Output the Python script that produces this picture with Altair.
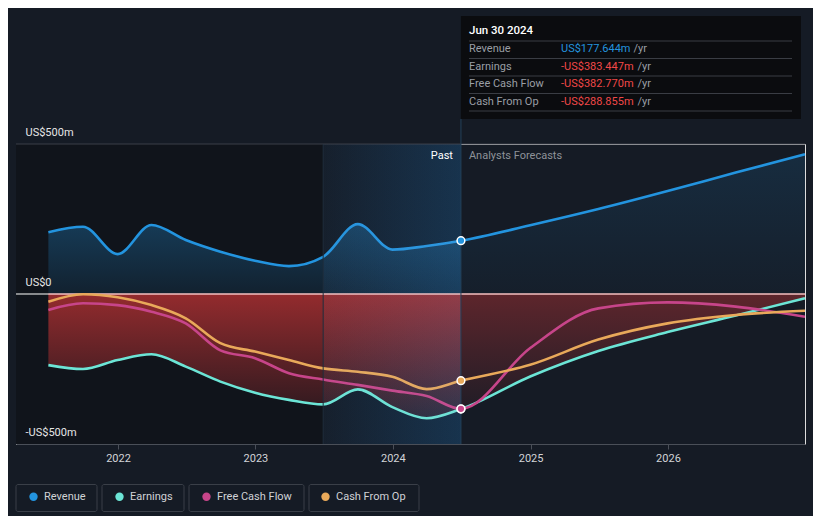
import altair as alt
import pandas as pd

# ---------------- data ----------------
SERIES = ["Revenue", "Earnings", "Free Cash Flow", "Cash From Op"]
COLORS = ["#2394df", "#6ce5d6", "#c7458a", "#e9a95a"]

PAST_DATES = ["2021-06-30", "2021-09-30", "2021-12-31", "2022-03-31", "2022-06-30",
              "2022-09-30", "2022-12-31", "2023-03-31", "2023-06-30", "2023-09-30",
              "2023-12-31", "2024-03-31", "2024-06-30"]
FORECAST_DATES = ["2024-12-31", "2025-06-30", "2025-12-31", "2026-06-30", "2026-12-31"]

REVENUE_PAST = [206, 224, 133, 230, 180, 141, 111, 93, 124, 233, 148, 160, 177.644]
EARNINGS_PAST = [-237, -250, -220, -201, -242, -292, -329, -353, -368, -318, -377, -414, -383.447]
FCF_PAST = [-53, -31, -37, -59, -98, -188, -214, -264, -285, -303, -322, -340, -382.770]
CFO_PAST = [-26, -1, -11, -37, -81, -164, -192, -220, -248, -259, -276, -317, -288.855]

REVENUE_FORECAST = [229, 283, 343, 405, 466]
EARNINGS_FORECAST = [-275, -190, -127, -72, -14]
FCF_FORECAST = [-180, -48, -28, -42, -76]
CFO_FORECAST = [-236, -152, -98, -70, -56]

DOMAIN = ["2021-04-05", "2026-12-31"]
PAST_REGION_START = "2023-06-30"
LATEST = "2024-06-30"
LATEST_LABEL = "Jun 30 2024"
Y_TICKS = [-500, 0, 500]

PASTS = [REVENUE_PAST, EARNINGS_PAST, FCF_PAST, CFO_PAST]
FORECASTS = [REVENUE_FORECAST, EARNINGS_FORECAST, FCF_FORECAST, CFO_FORECAST]

rows = []
for name, past, fc in zip(SERIES, PASTS, FORECASTS):
    for d, v in zip(PAST_DATES, past):
        rows.append({"date": d, "value": v, "series": name, "phase": "past"})
    for d, v in zip(FORECAST_DATES, fc):
        rows.append({"date": d, "value": v, "series": name, "phase": "forecast"})
df = pd.DataFrame(rows)

def part(name, phase):
    s = df[df.series == name]
    if phase == "past":
        return s[s.phase == "past"]
    return s[(s.phase == "forecast") | (s.date == LATEST)]

latest_df = df[df.date == LATEST]
marker_df = pd.DataFrame({"date": [LATEST]})
region_df = pd.DataFrame({"date": [DOMAIN[0]], "end": [PAST_REGION_START]})
past_region_df = pd.DataFrame({"date": [PAST_REGION_START], "end": [LATEST]})
data_span_df = pd.DataFrame({"date": [PAST_DATES[0]], "end": [FORECAST_DATES[-1]], "value": [0]})
grid_df = pd.DataFrame({"value": [Y_TICKS[-1]]})
zero_df = pd.DataFrame({"value": [0]})

# ---------------- style ----------------
W, H = 789, 300
BG = "#151b25"
FONT = "Roboto"

XSCALE = alt.Scale(domain=DOMAIN)
YSCALE = alt.Scale(domain=[-500, 500], nice=False, zero=False)

XAXIS = alt.Axis(title=None, format="%Y", tickCount="year", grid=False,
                 labelColor="#d2d4d8", labelFontSize=11, labelFont=FONT,
                 domainColor="#4a4f58", tickColor="#4a4f58", tickSize=5,
                 labelPadding=3, zindex=1)
YAXIS = alt.Axis(title=None, values=Y_TICKS, grid=False, domain=False, ticks=False,
                 tickSize=0, labelAlign="left", labelBaseline="bottom",
                 labelPadding=-9, labelOffset=-7, labelColor="#e6e6e6",
                 labelFontSize=11, labelFont=FONT, labelOverlap=False,
                 labelFlush=False, labelBound=False, zindex=1,
                 labelExpr="datum.value == 0 ? 'US$0' : (datum.value < 0 ? '-US$' + abs(datum.value) + 'm' : 'US$' + datum.value + 'm')")

LEGEND = alt.Legend(orient="none", legendX=12, legendY=347,
                    direction="horizontal", title=None,
                    symbolType="circle", symbolSize=70,
                    symbolStrokeWidth=0, labelFontSize=11,
                    labelFont=FONT, labelColor="#d0d2d6",
                    columnPadding=28, labelOffset=5, padding=0)
COLOR = alt.Color("series:N", scale=alt.Scale(domain=SERIES, range=COLORS), legend=LEGEND)

X = alt.X("date:T", scale=XSCALE, axis=XAXIS)
Y = alt.Y("value:Q", scale=YSCALE, axis=YAXIS)

def vgrad(c0, c1):
    return alt.Gradient(gradient="linear", x1=0, x2=0, y1=0, y2=1,
                        stops=[alt.GradientStop(color=c0, offset=0),
                               alt.GradientStop(color=c1, offset=1)])

def hgrad(c0, c1):
    return alt.Gradient(gradient="linear", x1=0, x2=1, y1=0, y2=0,
                        stops=[alt.GradientStop(color=c0, offset=0),
                               alt.GradientStop(color=c1, offset=1)])

layers = []

# background regions
layers.append(alt.Chart(region_df).mark_rect(color="#10141b").encode(
    x=X, x2="end:T", y=alt.value(0), y2=alt.value(H)))
layers.append(alt.Chart(past_region_df).mark_rect(
    color=hgrad("#121b27", "#0b2740")).encode(
    x=X, x2="end:T", y=alt.value(0), y2=alt.value(H)))

# gridline at 500
layers.append(alt.Chart(grid_df).mark_rule(color="#3a3f48", strokeWidth=1).encode(y=Y))

# areas
layers.append(alt.Chart(part("Revenue", "past")).mark_area(
    interpolate="monotone",
    color=vgrad("rgba(35,148,223,0.30)", "rgba(35,148,223,0.10)")).encode(
    x=X, y=Y, y2=alt.datum(0)))
layers.append(alt.Chart(part("Revenue", "forecast")).mark_area(
    interpolate="monotone",
    color=vgrad("rgba(35,148,223,0.14)", "rgba(35,148,223,0.03)")).encode(
    x=X, y=Y, y2=alt.datum(0)))
layers.append(alt.Chart(part("Earnings", "past")).mark_area(
    interpolate="monotone",
    color=vgrad("rgba(222,56,56,0.64)", "rgba(222,56,56,0.12)")).encode(
    x=X, y=Y, y2=alt.datum(0)))
layers.append(alt.Chart(part("Earnings", "forecast")).mark_area(
    interpolate="monotone",
    color=vgrad("rgba(222,56,56,0.36)", "rgba(222,56,56,0.06)")).encode(
    x=X, y=Y, y2=alt.datum(0)))

# zero lines
layers.append(alt.Chart(zero_df).mark_rule(color="#ffffff", strokeWidth=1.2).encode(y=Y))
layers.append(alt.Chart(data_span_df).mark_rule(color="#f0a0a0", strokeWidth=1.2).encode(
    x=X, x2="end:T", y=Y))

# lines
layers.append(alt.Chart(df).mark_line(interpolate="monotone", strokeWidth=2.6).encode(
    x=X, y=Y, color=COLOR))

# past overlay tint
layers.append(alt.Chart(past_region_df).mark_rect(
    color=hgrad("rgba(150,175,215,0.03)", "rgba(150,175,215,0.09)")).encode(
    x=X, x2="end:T", y=alt.value(0), y2=alt.value(H)))

# vertical separators
layers.append(alt.Chart(past_region_df).mark_rule(color="#1f2d3c", strokeWidth=1).encode(
    x=X, y=alt.value(0), y2=alt.value(H)))
layers.append(alt.Chart(marker_df).mark_rule(color="#23405a", strokeWidth=1).encode(
    x=X, y=alt.value(-25), y2=alt.value(H)))

# markers
layers.append(alt.Chart(latest_df).mark_point(
    filled=True, shape="circle", size=60, stroke="#ffffff", strokeWidth=1.5,
    opacity=1).encode(x=X, y=Y, color=COLOR))

# legend boxes
box_x = [(0, 81), (86, 168), (173, 288), (293, 403)]
for x0, x1 in box_x:
    layers.append(alt.Chart(alt.Data(values=[{}])).mark_rect(
        fill="transparent", stroke="#3a3f48", strokeWidth=1, cornerRadius=2).encode(
        x=alt.value(x0), x2=alt.value(x1), y=alt.value(340.5), y2=alt.value(367.5)))

# Past / Analysts Forecasts
layers.append(alt.Chart(marker_df).mark_text(
    text="Past", align="right", dx=-8, color="#ffffff", fontSize=11, font=FONT).encode(
    x=X, y=alt.value(12)))
layers.append(alt.Chart(marker_df).mark_text(
    text="Analysts Forecasts", align="left", dx=8, color="#8e9299", fontSize=11, font=FONT).encode(
    x=X, y=alt.value(12)))

# tooltip box
layers.append(alt.Chart(marker_df).mark_rect(color="#0b0c0f").encode(
    x=X, x2=alt.value(785), y=alt.value(-128), y2=alt.value(-25)))
for i in range(5):
    layers.append(alt.Chart(alt.Data(values=[{}])).mark_rule(
        color="#3a3d44", strokeWidth=1).encode(
        x=alt.value(453), x2=alt.value(776), y=alt.value(-103 + i * 17.5)))
layers.append(alt.Chart(alt.Data(values=[{}])).mark_text(
    text=LATEST_LABEL, align="left", baseline="middle", color="#ffffff",
    fontSize=11.5, fontWeight=500, font=FONT).encode(
    x=alt.value(453), y=alt.value(-113)))

for i, (name, past) in enumerate(zip(SERIES, PASTS)):
    v = past[-1]
    txt = ("-" if v < 0 else "") + "US$" + f"{abs(v):.3f}" + "m"
    vcol = "#2394df" if v >= 0 else "#f04848"
    yy = -94.7 + i * 17.4
    layers.append(alt.Chart(alt.Data(values=[{}])).mark_text(
        text=name, align="left", baseline="middle", color="#9a9ea5",
        fontSize=11, font=FONT).encode(x=alt.value(453), y=alt.value(yy)))
    layers.append(alt.Chart(alt.Data(values=[{}])).mark_text(
        text=txt, align="left", baseline="middle", color=vcol,
        fontSize=11, font=FONT).encode(x=alt.value(545), y=alt.value(yy)))
    layers.append(alt.Chart(alt.Data(values=[{}])).mark_text(
        text="/yr", align="left", baseline="middle", color="#9a9ea5",
        fontSize=11, font=FONT).encode(
        x=alt.value(617.5 if v >= 0 else 621.5), y=alt.value(yy)))

chart = alt.layer(*layers).properties(
    width=W, height=H,
    padding={"left": 8, "top": 136, "right": 8, "bottom": 72},
    autosize=alt.AutoSizeParams(type="none"),
    background=BG,
).configure_view(strokeWidth=0).configure(font=FONT)

chart.save("out.html", embed_options={"renderer": "svg", "actions": False})
